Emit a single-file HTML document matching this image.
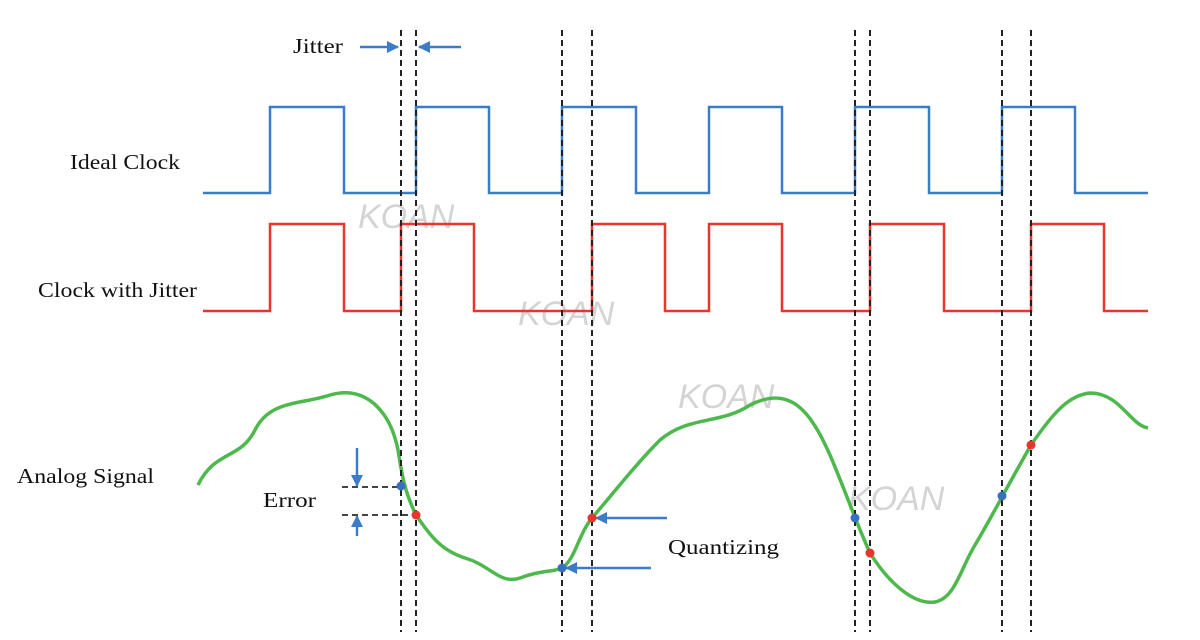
<!DOCTYPE html>
<html><head><meta charset="utf-8"><style>
html,body{margin:0;padding:0;background:#fff;}
svg{display:block}
.t{font-family:"Liberation Serif",serif;font-size:21px;fill:#111}
.k{font-family:"Liberation Sans",sans-serif;font-style:italic;font-size:34px;fill:#d4d4d4}
</style></head><body>
<svg width="1200" height="640" viewBox="0 0 1200 640" xmlns="http://www.w3.org/2000/svg">
<defs>
<marker id="ah" markerWidth="12" markerHeight="12" refX="11" refY="6" orient="auto" markerUnits="userSpaceOnUse" viewBox="0 0 12 12"><path d="M0,0 L12,6 L0,12 z" fill="#3a7cc8"/></marker>
<marker id="ah2" markerWidth="12" markerHeight="12" refX="11" refY="6" orient="auto" markerUnits="userSpaceOnUse" viewBox="0 0 12 12"><path d="M0,0 L12,6 L0,12 z" fill="#3a7cc8"/></marker>
</defs>
<text class="k" x="358" y="228">KOAN</text>
<text class="k" x="518" y="325">KOAN</text>
<text class="k" x="678" y="408">KOAN</text>
<text class="k" x="848" y="510">KOAN</text>
<polyline fill="none" stroke="#3a7cc8" stroke-width="2.5" points="203,193 270,193 270,107 344,107 344,193 416,193 416,107 489,107 489,193 562,193 562,107 636,107 636,193 709,193 709,107 782,107 782,193 855,193 855,107 929,107 929,193 1002,193 1002,107 1075,107 1075,193 1148,193"/>
<polyline fill="none" stroke="#e8362e" stroke-width="2.5" points="203,311 270,311 270,224 344,224 344,311 401,311 401,224 474,224 474,311 592,311 592,224 665,224 665,311 709,311 709,224 782,224 782,311 870,311 870,224 944,224 944,311 1031,311 1031,224 1104,224 1104,311 1148,311"/>
<path fill="none" stroke="#4db84c" stroke-width="3.5" d="M198,485 C215,450 240,460 255,430 C270,400 300,405 330,395 C365,385 390,410 398,450 C402,475 404,490 416,515 C430,535 440,550 465,558 C490,565 500,585 520,578 C540,570 555,572 562,568 C575,560 578,535 592,518 C620,485 640,460 660,440 C690,415 720,425 750,405 C790,385 810,410 830,455 C845,490 855,520 870,553 C890,585 915,605 935,602 C955,598 960,570 975,545 C990,520 1002,496 1031,445 C1055,410 1070,395 1090,393 C1120,393 1130,425 1148,428"/>
<g stroke="#222" stroke-width="2" stroke-dasharray="6,4">
<line x1="401" y1="30" x2="401" y2="632"/><line x1="416" y1="30" x2="416" y2="632"/>
<line x1="562" y1="30" x2="562" y2="632"/><line x1="592" y1="30" x2="592" y2="632"/>
<line x1="855" y1="30" x2="855" y2="632"/><line x1="870" y1="30" x2="870" y2="632"/>
<line x1="1002" y1="30" x2="1002" y2="632"/><line x1="1031" y1="30" x2="1031" y2="632"/>
</g>
<g stroke="#444" stroke-width="2" stroke-dasharray="6,4">
<line x1="342" y1="487" x2="400" y2="487"/><line x1="342" y1="515" x2="414" y2="515"/>
</g>
<g stroke="#3a7cc8" stroke-width="2.5">
<line x1="360" y1="47" x2="398" y2="47" marker-end="url(#ah)"/>
<line x1="461" y1="47" x2="419" y2="47" marker-end="url(#ah)"/>
<line x1="357" y1="448" x2="357" y2="486" marker-end="url(#ah)"/>
<line x1="357" y1="536" x2="357" y2="516" marker-end="url(#ah)"/>
<line x1="667" y1="518" x2="596" y2="518" marker-end="url(#ah2)"/>
<line x1="651" y1="568" x2="566" y2="568" marker-end="url(#ah2)"/>
</g>
<g>
<circle cx="401" cy="486" r="4.5" fill="#3a6fc0"/><circle cx="416" cy="515" r="4.5" fill="#e8362e"/>
<circle cx="562" cy="568" r="4.5" fill="#3a6fc0"/><circle cx="592" cy="518" r="4.5" fill="#e8362e"/>
<circle cx="855" cy="518" r="4.5" fill="#3a6fc0"/><circle cx="870" cy="553" r="4.5" fill="#e8362e"/>
<circle cx="1002" cy="496" r="4.5" fill="#3a6fc0"/><circle cx="1031" cy="445" r="4.5" fill="#e8362e"/>
</g>
<text class="t" x="293" y="53" textLength="50" lengthAdjust="spacingAndGlyphs">Jitter</text>
<text class="t" x="70" y="169" textLength="110" lengthAdjust="spacingAndGlyphs">Ideal Clock</text>
<text class="t" x="38" y="297" textLength="159" lengthAdjust="spacingAndGlyphs">Clock with Jitter</text>
<text class="t" x="17" y="483" textLength="137" lengthAdjust="spacingAndGlyphs">Analog Signal</text>
<text class="t" x="263" y="507" textLength="53" lengthAdjust="spacingAndGlyphs">Error</text>
<text class="t" x="668" y="554" textLength="111" lengthAdjust="spacingAndGlyphs">Quantizing</text>
</svg>
</body></html>
